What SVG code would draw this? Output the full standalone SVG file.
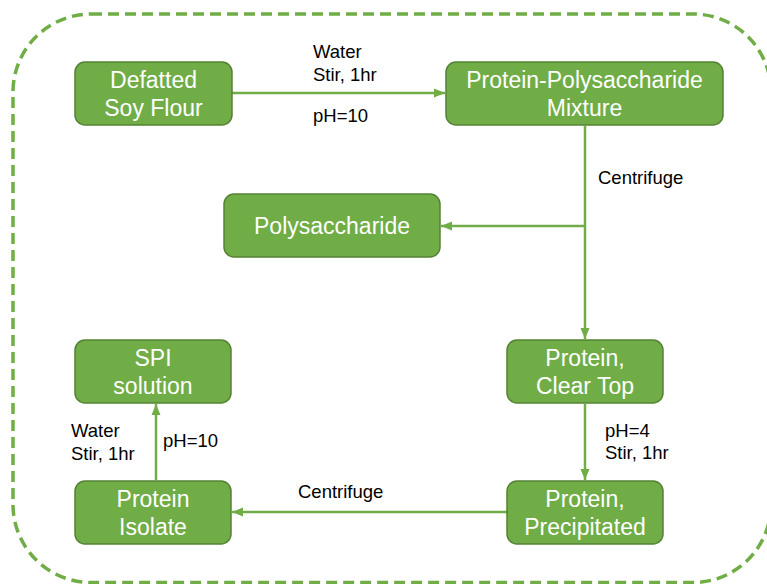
<svg xmlns="http://www.w3.org/2000/svg" width="767" height="584" viewBox="0 0 767 584">
<style>
.node rect{fill:#70AD47;stroke:#548235;stroke-width:1.5}
.node text{fill:#FFFFFF;font-family:"Liberation Sans",Arial,sans-serif;font-size:23px;text-anchor:middle}
.lbl{fill:#000000;font-family:"Liberation Sans",Arial,sans-serif;font-size:18.5px}
.conn{stroke:#70AD47;stroke-width:2.5;fill:none}
</style>
<defs>
<marker id="arr" markerUnits="userSpaceOnUse" markerWidth="12" markerHeight="12" viewBox="0 0 12 12" refX="11" refY="6" orient="auto">
<path d="M0,1.5 L11,6 L0,10.5 Z" fill="#70AD47"/>
</marker>
</defs>
<rect x="13" y="14" width="758" height="568.5" rx="78" ry="78" fill="none" stroke="#70AD47" stroke-width="3.5" stroke-dasharray="11 6"/>
<g id="connectors">
<line class="conn" x1="232" y1="93" x2="445" y2="93" marker-end="url(#arr)"/>
<line class="conn" x1="585" y1="126" x2="585" y2="339" marker-end="url(#arr)"/>
<line class="conn" x1="585" y1="226" x2="441" y2="226" marker-end="url(#arr)"/>
<line class="conn" x1="585" y1="404" x2="585" y2="480" marker-end="url(#arr)"/>
<line class="conn" x1="507" y1="512" x2="232" y2="512" marker-end="url(#arr)"/>
<line class="conn" x1="156" y1="480" x2="156" y2="404" marker-end="url(#arr)"/>
</g>
<g id="labels">
<text class="lbl" x="313" y="58">Water</text>
<text class="lbl" x="313" y="81">Stir, 1hr</text>
<text class="lbl" x="313" y="122">pH=10</text>
<text class="lbl" x="598" y="184">Centrifuge</text>
<text class="lbl" x="605" y="437">pH=4</text>
<text class="lbl" x="605" y="459">Stir, 1hr</text>
<text class="lbl" x="298" y="498">Centrifuge</text>
<text class="lbl" x="71" y="437">Water</text>
<text class="lbl" x="71" y="460">Stir, 1hr</text>
<text class="lbl" x="163" y="447">pH=10</text>
</g>
<g id="n-defatted" class="node"><rect x="75" y="62" width="157" height="63" rx="10"/><text x="153.5" y="88">Defatted</text><text x="153.5" y="116">Soy Flour</text></g>
<g id="n-mixture" class="node"><rect x="446" y="62" width="277" height="63" rx="10"/><text x="584.5" y="88">Protein-Polysaccharide</text><text x="584.5" y="116">Mixture</text></g>
<g id="n-polysaccharide" class="node"><rect x="224" y="194" width="216" height="63" rx="10"/><text x="332" y="234">Polysaccharide</text></g>
<g id="n-spi" class="node"><rect x="75" y="340" width="156" height="63" rx="10"/><text x="153" y="366">SPI</text><text x="153" y="394">solution</text></g>
<g id="n-cleartop" class="node"><rect x="507" y="340" width="156" height="63" rx="10"/><text x="585" y="366">Protein,</text><text x="585" y="394">Clear Top</text></g>
<g id="n-isolate" class="node"><rect x="75" y="481" width="156" height="63" rx="10"/><text x="153" y="507">Protein</text><text x="153" y="535">Isolate</text></g>
<g id="n-precipitated" class="node"><rect x="507" y="481" width="156" height="63" rx="10"/><text x="585" y="507">Protein,</text><text x="585" y="535">Precipitated</text></g>
</svg>
